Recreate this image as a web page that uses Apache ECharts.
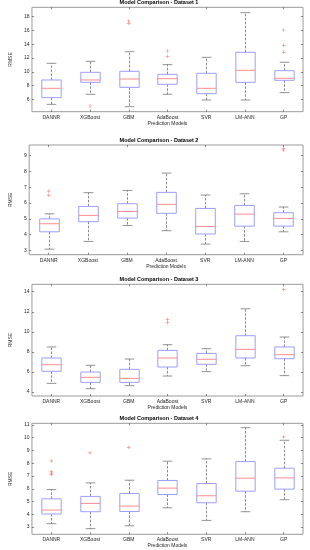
<!DOCTYPE html>
<html>
<head>
<meta charset="utf-8">
<script src="https://cdn.jsdelivr.net/npm/echarts@6/dist/echarts.min.js"></script>
<style>
html,body{margin:0;padding:0;background:#fff;}
#chart{width:310px;height:550px;}
</style>
</head>
<body>
<div id="chart"></div>
<script>
// ---------- DATA ----------
const categories = ['DANNR', 'XGBoost', 'GBM', 'AdaBoost', 'SVR', 'LM-ANN', 'GP'];
const titles = ['Model Comparison - Dataset 1', 'Model Comparison - Dataset 2',
                'Model Comparison - Dataset 3', 'Model Comparison - Dataset 4'];
const xAxisName = 'Prediction Models';
const yAxisName = 'RMSE';

// [lower whisker, Q1, median, Q3, upper whisker] per category
const ds1Stats = [
  [5.27, 6.24, 7.60, 8.81, 11.23],
  [6.73, 8.47, 8.81, 9.92, 11.52],
  [4.93, 7.74, 8.95, 10.07, 12.92],
  [6.73, 8.18, 9.00, 9.63, 11.04],
  [5.90, 6.82, 7.60, 9.78, 12.10],
  [5.90, 8.47, 10.21, 12.83, 18.59],
  [6.97, 8.76, 9.05, 10.16, 11.38]
];
const ds1Outliers = [[1, 5.03], [2, 17.38], [2, 17.04], [3, 13.02], [3, 12.25], [6, 16.07], [6, 13.84], [6, 12.83]];
const ds1Ticks = [6, 8, 10, 12, 14, 16, 18];
const ds1Range = [4.2, 19.37];

const ds2Stats = [
  [3.08, 4.18, 4.69, 5.00, 5.32],
  [3.57, 4.82, 5.22, 5.79, 6.66],
  [4.58, 5.05, 5.47, 5.96, 6.80],
  [4.25, 5.35, 5.92, 6.68, 7.90],
  [3.40, 4.04, 4.52, 5.66, 6.51],
  [3.57, 4.54, 5.30, 5.85, 6.59],
  [4.18, 4.54, 5.03, 5.39, 5.75]
];
const ds2Outliers = [[0, 6.76], [0, 6.49], [6, 9.45], [6, 9.35]];
const ds2Ticks = [3, 4, 5, 6, 7, 8, 9];
const ds2Range = [2.73, 9.68];

const ds3Stats = [
  [4.86, 6.06, 6.72, 7.39, 8.49],
  [4.33, 4.96, 5.46, 5.99, 6.66],
  [4.63, 4.96, 5.36, 6.26, 7.29],
  [5.59, 6.49, 7.39, 8.15, 8.72],
  [6.03, 6.76, 7.26, 7.85, 8.32],
  [6.62, 7.39, 8.25, 9.61, 12.30],
  [5.63, 7.32, 7.72, 8.49, 9.48]
];
const ds3Outliers = [[3, 11.24], [3, 10.91], [6, 14.23]];
const ds3Ticks = [4, 6, 8, 10, 12, 14];
const ds3Range = [3.6, 14.74];

const ds4Stats = [
  [3.26, 4.02, 4.33, 5.21, 5.94],
  [2.87, 4.20, 4.85, 5.40, 6.46],
  [3.10, 4.22, 4.64, 5.63, 6.67],
  [4.51, 5.55, 6.05, 6.65, 8.16],
  [3.52, 4.90, 5.45, 6.41, 8.34],
  [4.20, 5.81, 6.83, 8.13, 10.79],
  [5.14, 5.97, 6.85, 7.61, 9.80]
];
const ds4Outliers = [[0, 8.18], [0, 7.35], [0, 7.22], [0, 7.11], [1, 8.81], [2, 9.25], [6, 10.06]];
const ds4Ticks = [3, 4, 5, 6, 7, 8, 9, 10, 11];
const ds4Range = [2.43, 11.13];

// ---------- LAYOUT ----------
const allStats = [ds1Stats, ds2Stats, ds3Stats, ds4Stats];
const allOutliers = [ds1Outliers, ds2Outliers, ds3Outliers, ds4Outliers];
const allTicks = [ds1Ticks, ds2Ticks, ds3Ticks, ds4Ticks];
const allRanges = [ds1Range, ds2Range, ds3Range, ds4Range];

const panelTop = [7.3, 145, 284.3, 423.3];
const panelHeight = [104.4, 109.7, 111.7, 111];
const plotLeft = 15, plotRight = 303;

const FONT = 'Liberation Sans';
const frameColor = '#9a9a9a';
const tickColor = '#555';
const textColor = '#262626';

function renderBox(params, api) {
  const idx = api.value(0);
  const low = api.coord([idx, api.value(1)]);
  const q1 = api.coord([idx, api.value(2)]);
  const med = api.coord([idx, api.value(3)]);
  const q3 = api.coord([idx, api.value(4)]);
  const high = api.coord([idx, api.value(5)]);
  const band = api.size([1, 0])[0];
  const bw = band * 0.5;
  const cw = band * 0.25;
  const x = Math.round(low[0]) + 0.5;
  const dash = {stroke: '#6a6a6a', lineWidth: 0.8, lineDash: [2.5, 1.5]};
  const cap = {stroke: '#777', lineWidth: 0.8};
  return {
    type: 'group',
    children: [
      {type: 'line', shape: {x1: x, y1: q3[1], x2: x, y2: high[1]}, style: dash},
      {type: 'line', shape: {x1: x, y1: q1[1], x2: x, y2: low[1]}, style: dash},
      {type: 'line', shape: {x1: x - cw / 2, y1: high[1], x2: x + cw / 2, y2: high[1]}, style: cap},
      {type: 'line', shape: {x1: x - cw / 2, y1: low[1], x2: x + cw / 2, y2: low[1]}, style: cap},
      {type: 'rect', shape: {x: x - bw / 2, y: q3[1], width: bw, height: q1[1] - q3[1]},
        style: {fill: 'none', stroke: '#9d9dff', lineWidth: 1}},
      {type: 'line', shape: {x1: x - bw / 2, y1: med[1], x2: x + bw / 2, y2: med[1]},
        style: {stroke: '#ff8c8c', lineWidth: 1}}
    ]
  };
}

const option = {
  animation: false,
  backgroundColor: '#ffffff',
  title: [], grid: [], xAxis: [], yAxis: [], series: []
};

for (let p = 0; p < 4; p++) {
  option.title.push({
    text: titles[p],
    left: (plotLeft + plotRight) / 2,
    top: panelTop[p] - 7.5,
    textAlign: 'center',
    padding: 0,
    textStyle: {fontFamily: FONT, fontSize: 5.5, fontWeight: 'bold', color: '#000'}
  });
  option.grid.push({
    left: plotLeft, width: plotRight - plotLeft,
    top: panelTop[p], height: panelHeight[p],
    show: true, borderColor: frameColor, borderWidth: 1, backgroundColor: 'transparent'
  });
  option.xAxis.push({
    type: 'category', gridIndex: p, data: categories, position: 'bottom',
    boundaryGap: true,
    name: xAxisName, nameLocation: 'middle', nameGap: 9,
    nameTextStyle: {fontFamily: FONT, fontSize: 5, color: textColor},
    axisLine: {show: false},
    axisTick: {show: true, inside: true, alignWithLabel: true, length: 2, lineStyle: {color: tickColor, width: 0.7}},
    axisLabel: {fontFamily: FONT, fontSize: 5, color: textColor, margin: 3, interval: 0},
    splitLine: {show: false}
  });
  option.xAxis.push({
    type: 'category', gridIndex: p, data: categories, position: 'top',
    boundaryGap: true,
    axisLine: {show: false},
    axisTick: {show: true, inside: true, alignWithLabel: true, length: 2, lineStyle: {color: tickColor, width: 0.7}},
    axisLabel: {show: false},
    splitLine: {show: false}
  });
  const r = allRanges[p];
  option.yAxis.push({
    type: 'value', gridIndex: p, position: 'left', min: r[0], max: r[1],
    name: yAxisName, nameLocation: 'middle', nameGap: 8, nameRotate: 90,
    nameTextStyle: {fontFamily: FONT, fontSize: 5, color: textColor},
    axisLine: {show: false},
    axisTick: {show: true, inside: true, length: 2, customValues: allTicks[p], lineStyle: {color: tickColor, width: 0.7}},
    axisLabel: {fontFamily: FONT, fontSize: 5, color: textColor, margin: 2.5, customValues: allTicks[p]},
    splitLine: {show: false}
  });
  option.yAxis.push({
    type: 'value', gridIndex: p, position: 'right', min: r[0], max: r[1],
    axisLine: {show: false},
    axisTick: {show: true, inside: true, length: 2, customValues: allTicks[p], lineStyle: {color: tickColor, width: 0.7}},
    axisLabel: {show: false, customValues: allTicks[p]},
    splitLine: {show: false}
  });
  option.series.push({
    type: 'custom',
    xAxisIndex: 2 * p, yAxisIndex: 2 * p,
    renderItem: renderBox,
    encode: {x: 0, y: [1, 2, 3, 4, 5]},
    data: allStats[p].map((s, i) => [i].concat(s)),
    silent: true
  });
  option.series.push({
    type: 'scatter',
    xAxisIndex: 2 * p, yAxisIndex: 2 * p,
    symbol: 'path://M4,0H6V4H10V6H6V10H4V6H0V4H4Z',
    symbolSize: 3.5,
    itemStyle: {color: '#ff6b6b'},
    data: allOutliers[p].map(o => [categories[o[0]], o[1]]),
    silent: true
  });
}

const chart = echarts.init(document.getElementById('chart'), null, {renderer: 'canvas'});
chart.setOption(option);
</script>
</body>
</html>
